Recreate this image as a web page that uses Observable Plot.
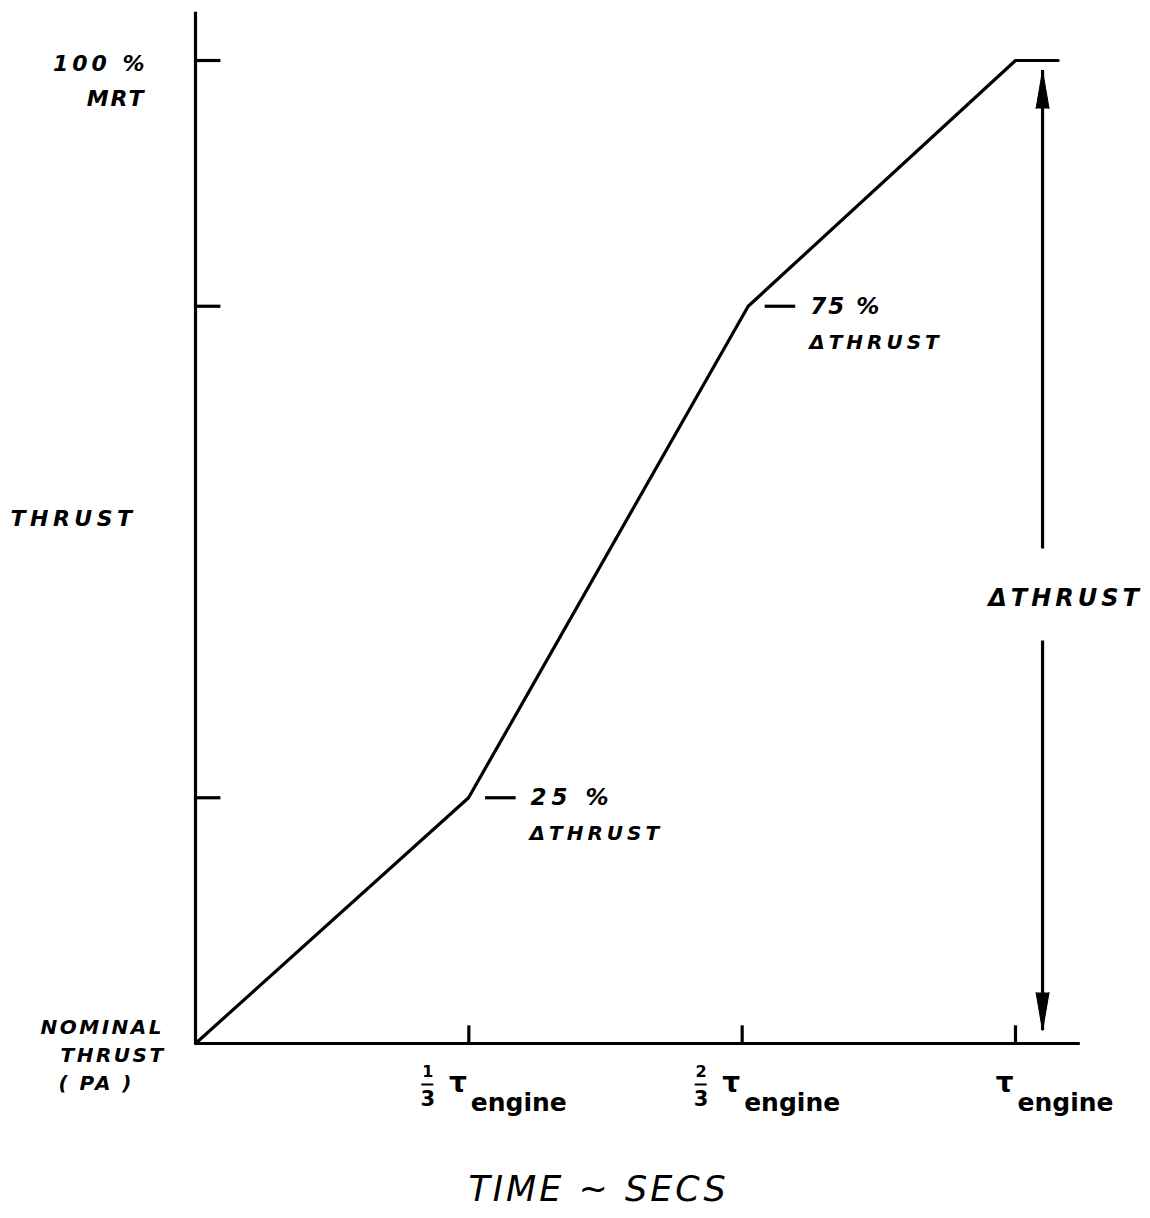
<!DOCTYPE html>
<html><head><meta charset="utf-8">
<script src="https://cdn.jsdelivr.net/npm/d3@7"></script>
<script src="https://cdn.jsdelivr.net/npm/@observablehq/plot@0.6"></script>
<style>body{margin:0;background:#fff} svg{display:block}</style>
</head><body><div id="chart"></div>
<script>
// Thrust profile (fraction of engine time constant, % of delta thrust)
const thrustTime = [0, 0.333, 0.674, 1, 1.052];
const thrustPct = [0, 25, 75, 100, 100];
// Axis ticks
const yTickValues = [25, 75, 100];
const xTickValues = [1/3, 2/3, 1];
const xTickNum = ["1", "2", ""];
const xTickDen = ["3", "3", ""];
const xTickSymbol = ["τ", "τ", "τ"];
const xTickSub = ["engine", "engine", "engine"];
// Break-point annotations
const breakTime = [0.333, 0.674];
const breakPct = [25, 75];
const breakLabel = ["25 %", "75 %"];
const breakSub = ["ΔTHRUST", "ΔTHRUST"];
// Delta-thrust dimension arrow
const deltaX = [1.033];
const deltaLabel = ["ΔTHRUST"];
const deltaFrom = 0, deltaTo = 100;
// Axis extents
const xAxisEnd = 1.079, yAxisEnd = 104.9;

const F = {fontFamily: "DejaVu Sans", fontWeight: "bold", fontStyle: "italic", fill: "black"};
const lw = 3.2;
const idx2 = d3.range(breakTime.length);
const idx3 = d3.range(xTickValues.length);

const chart = Plot.plot({
  width: 1150, height: 1218,
  marginLeft: 195, marginRight: 135, marginTop: 60, marginBottom: 175,
  x: {domain: [0, 1], axis: null},
  y: {domain: [0, 100], axis: null},
  style: {background: "white", color: "black"},
  marks: [
    // axes
    Plot.ruleY([0], {x1: 0, x2: xAxisEnd, strokeWidth: lw}),
    Plot.ruleX([0], {y1: 0, y2: yAxisEnd, strokeWidth: lw}),
    Plot.ruleY(yTickValues, {x1: 0, x2: 0.031, strokeWidth: lw}),
    Plot.ruleX(xTickValues, {y1: 0, y2: 1.8, strokeWidth: lw}),
    // thrust line
    Plot.line(thrustTime.map((t, i) => ({t, p: thrustPct[i]})), {x: "t", y: "p", strokeWidth: lw, stroke: "black"}),
    // break annotations
    Plot.ruleY(idx2, {y: i => breakPct[i], x1: i => breakTime[i], x2: i => breakTime[i] + 0.058, insetLeft: 17, strokeWidth: lw}),
    Plot.text(idx2, {x: i => breakTime[i], y: i => breakPct[i], text: i => breakLabel[i], dx: 62, textAnchor: "start", fontSize: 23, ...F}),
    Plot.text(idx2, {x: i => breakTime[i], y: i => breakPct[i], text: i => breakSub[i], dx: 61, dy: 36, textAnchor: "start", fontSize: 20, ...F}),
    // y labels
    Plot.text(["100 %"], {x: 0, y: 100, dx: -47, dy: 3, textAnchor: "end", fontSize: 22, ...F}),
    Plot.text(["MRT"], {x: 0, y: 100, dx: -50, dy: 38, textAnchor: "end", fontSize: 22, ...F}),
    Plot.text(["THRUST"], {frameAnchor: "left", dx: -185, dy: -33, textAnchor: "start", fontSize: 22, ...F}),
    Plot.text(["NOMINAL"], {x: 0, y: 0, dx: -155, dy: -16, textAnchor: "start", fontSize: 20, ...F}),
    Plot.text(["THRUST"], {x: 0, y: 0, dx: -135, dy: 12, textAnchor: "start", fontSize: 20, ...F}),
    Plot.text(["( PA )"], {x: 0, y: 0, dx: -137, dy: 40, textAnchor: "start", fontSize: 20, ...F}),
    // x tick labels (stacked fraction + tau with subscript)
    Plot.text(idx3, {x: i => xTickValues[i], y: 0, text: i => xTickNum[i], dx: -41, dy: 28, fontSize: 16, fontFamily: "DejaVu Sans", fontWeight: "bold"}),
    Plot.ruleY(idx3.filter(i => xTickNum[i]), {y: 0, x1: i => xTickValues[i], x2: i => xTickValues[i], insetLeft: -47, insetRight: 35, dy: 41, strokeWidth: 2}),
    Plot.text(idx3, {x: i => xTickValues[i], y: 0, text: i => xTickDen[i], dx: -41, dy: 56, fontSize: 21, fontFamily: "DejaVu Sans", fontWeight: "bold"}),
    Plot.text(idx3, {x: i => xTickValues[i], y: 0, text: i => xTickSymbol[i], dx: -2, dy: 40, textAnchor: "end", fontSize: 28, fontFamily: "DejaVu Sans", fontWeight: "bold"}),
    Plot.text(idx3, {x: i => xTickValues[i], y: 0, text: i => xTickSub[i], dx: 2, dy: 59, textAnchor: "start", fontSize: 25, fontFamily: "DejaVu Sans", fontWeight: "bold"}),
    // delta arrow
    Plot.ruleX(deltaX, {y1: deltaTo, y2: (deltaFrom + deltaTo) / 2, insetTop: 10, insetBottom: 3, strokeWidth: lw}),
    Plot.ruleX(deltaX, {y1: (deltaFrom + deltaTo) / 2, y2: deltaFrom, insetTop: 89, insetBottom: 13, strokeWidth: lw}),
    Plot.vector(deltaX, {x: d => d, y: deltaTo, rotate: 0, length: 38, r: 6.5, shape: "spike", anchor: "end", dy: 10, fill: "black", stroke: "black", strokeWidth: 1}),
    Plot.vector(deltaX, {x: d => d, y: deltaFrom, rotate: 180, length: 38, r: 6.5, shape: "spike", anchor: "end", dy: -13, fill: "black", stroke: "black", strokeWidth: 1}),
    Plot.text(deltaLabel, {x: deltaX[0], y: (deltaFrom + deltaTo) / 2, dx: 23, dy: 46, fontSize: 24, ...F}),
    // axis title
    Plot.text(["TIME ~ SECS"], {frameAnchor: "bottom", dx: -7, dy: 157, fontSize: 35, fontFamily: "DejaVu Sans", fontStyle: "italic", fill: "black"})
  ]
});
// hand-lettered look: widen the capital lettering
const spacing = {"100 %": 4, "MRT": 2, "THRUST": 4.5, "NOMINAL": 2.5, "( PA )": 2.5, "25 %": 5, "75 %": 2, "ΔTHRUST": 4, "TIME ~ SECS": 3};
d3.select(chart).selectAll("text").each(function() {
  let s = spacing[this.textContent];
  if (this.textContent === "THRUST" && +this.parentNode.getAttribute("font-size") === 20) s = 2.5;
  if (s) this.setAttribute("letter-spacing", s);
});
document.getElementById("chart").appendChild(chart);
</script>
</body></html>
